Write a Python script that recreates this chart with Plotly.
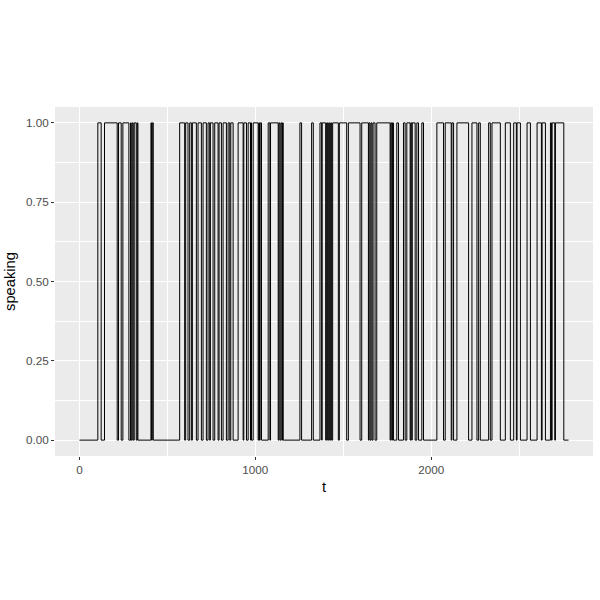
import plotly.graph_objects as go

# Start and end times of each "speaking" interval (speaking = 1)
on_start = [104.5, 142.5, 222.2, 246.9, 290.6, 300.1, 311.5, 328.6, 406.5, 414.1,
            569.8, 604.0, 626.8, 642.0, 674.3, 702.8, 731.3, 744.5, 769.2, 793.9,
            816.7, 845.2, 860.4, 902.2, 934.5, 959.2,
            974.4, 987.7, 1020.0, 1027.6, 1073.2, 1086.5, 1133.9, 1145.3, 1154.8,
            1253.6, 1320.1, 1367.6, 1380.0, 1405.5, 1417.0, 1428.3, 1439.7, 1477.7,
            1529.0, 1605.0, 1646.7, 1658.1, 1669.5, 1690.4, 1770.2, 1779.7, 1804.4,
            1842.4, 1861.4, 1884.1,
            1892.0, 1918.3, 1946.8, 2032.2, 2079.7, 2117.7, 2146.2, 2231.7, 2269.7,
            2326.6, 2345.6, 2421.6, 2469.1, 2488.1, 2545.1, 2602.0, 2630.5, 2678.0,
            2687.5, 2706.5]
on_end = [123.5, 214.6, 237.4, 281.1, 294.4, 305.8, 322.9, 332.4, 410.3, 419.8,
          598.3, 617.3, 636.3, 664.8, 693.3, 721.8, 740.7, 759.7, 788.2, 807.2,
          835.7, 854.7, 873.7, 930.7, 949.7, 972.5,
          978.2, 1016.2, 1023.8, 1035.2, 1082.7, 1130.1, 1139.6, 1151.0, 1158.6,
          1263.1, 1329.6, 1377.1, 1400.0, 1411.2, 1422.6, 1434.0, 1472.0, 1519.5,
          1595.5, 1643.0, 1652.4, 1663.8, 1680.9, 1766.4, 1775.9, 1785.4, 1813.9,
          1851.9, 1880.3, 1889.8,
          1908.8, 1927.8, 1956.3, 2070.2, 2113.9, 2127.2, 2212.7, 2260.2, 2279.2,
          2336.1, 2393.1, 2450.1, 2484.3, 2507.1, 2564.1, 2626.7, 2649.5, 2683.7,
          2702.7, 2754.0]
t_first = 0
t_last = 2781

# Build transition points
t = [t_first]
speaking = [0]
for s, e in zip(on_start, on_end):
    t += [s, e]
    speaking += [1, 0]
t.append(t_last)
speaking.append(0)

fig = go.Figure(go.Scatter(
    x=t, y=speaking, mode="lines", line_shape="hv",
    line=dict(color="black", width=1), showlegend=False))

axis_common = dict(
    showgrid=True, gridcolor="white", gridwidth=1.1, zeroline=False,
    ticks="outside", ticklen=3, tickcolor="#333333", tickwidth=1,
    tickfont=dict(family="Liberation Sans, Arial", size=11.7, color="#4d4d4d"),
    showline=False,
)

fig.update_layout(
    width=600, height=600,
    margin=dict(l=55, r=7, t=107, b=144),
    plot_bgcolor="#ebebeb", paper_bgcolor="white",
    font=dict(family="Liberation Sans, Arial"),
    xaxis=dict(range=[-139, 2920], tickvals=[0, 1000, 2000],
               minor=dict(tickvals=[500, 1500, 2500], showgrid=True,
                          gridcolor="white", gridwidth=0.5, ticks=""),
               title=dict(text="t", font=dict(size=14.7, color="black"), standoff=6),
               **axis_common),
    yaxis=dict(range=[-0.05, 1.05], tickvals=[0, 0.25, 0.5, 0.75, 1.0],
               tickformat=".2f",
               minor=dict(tickvals=[0.125, 0.375, 0.625, 0.875], showgrid=True,
                          gridcolor="white", gridwidth=0.5, ticks=""),
               title=dict(text="speaking", font=dict(size=14.7, color="black"), standoff=6),
               **axis_common),
)

fig.write_html("out.html")
